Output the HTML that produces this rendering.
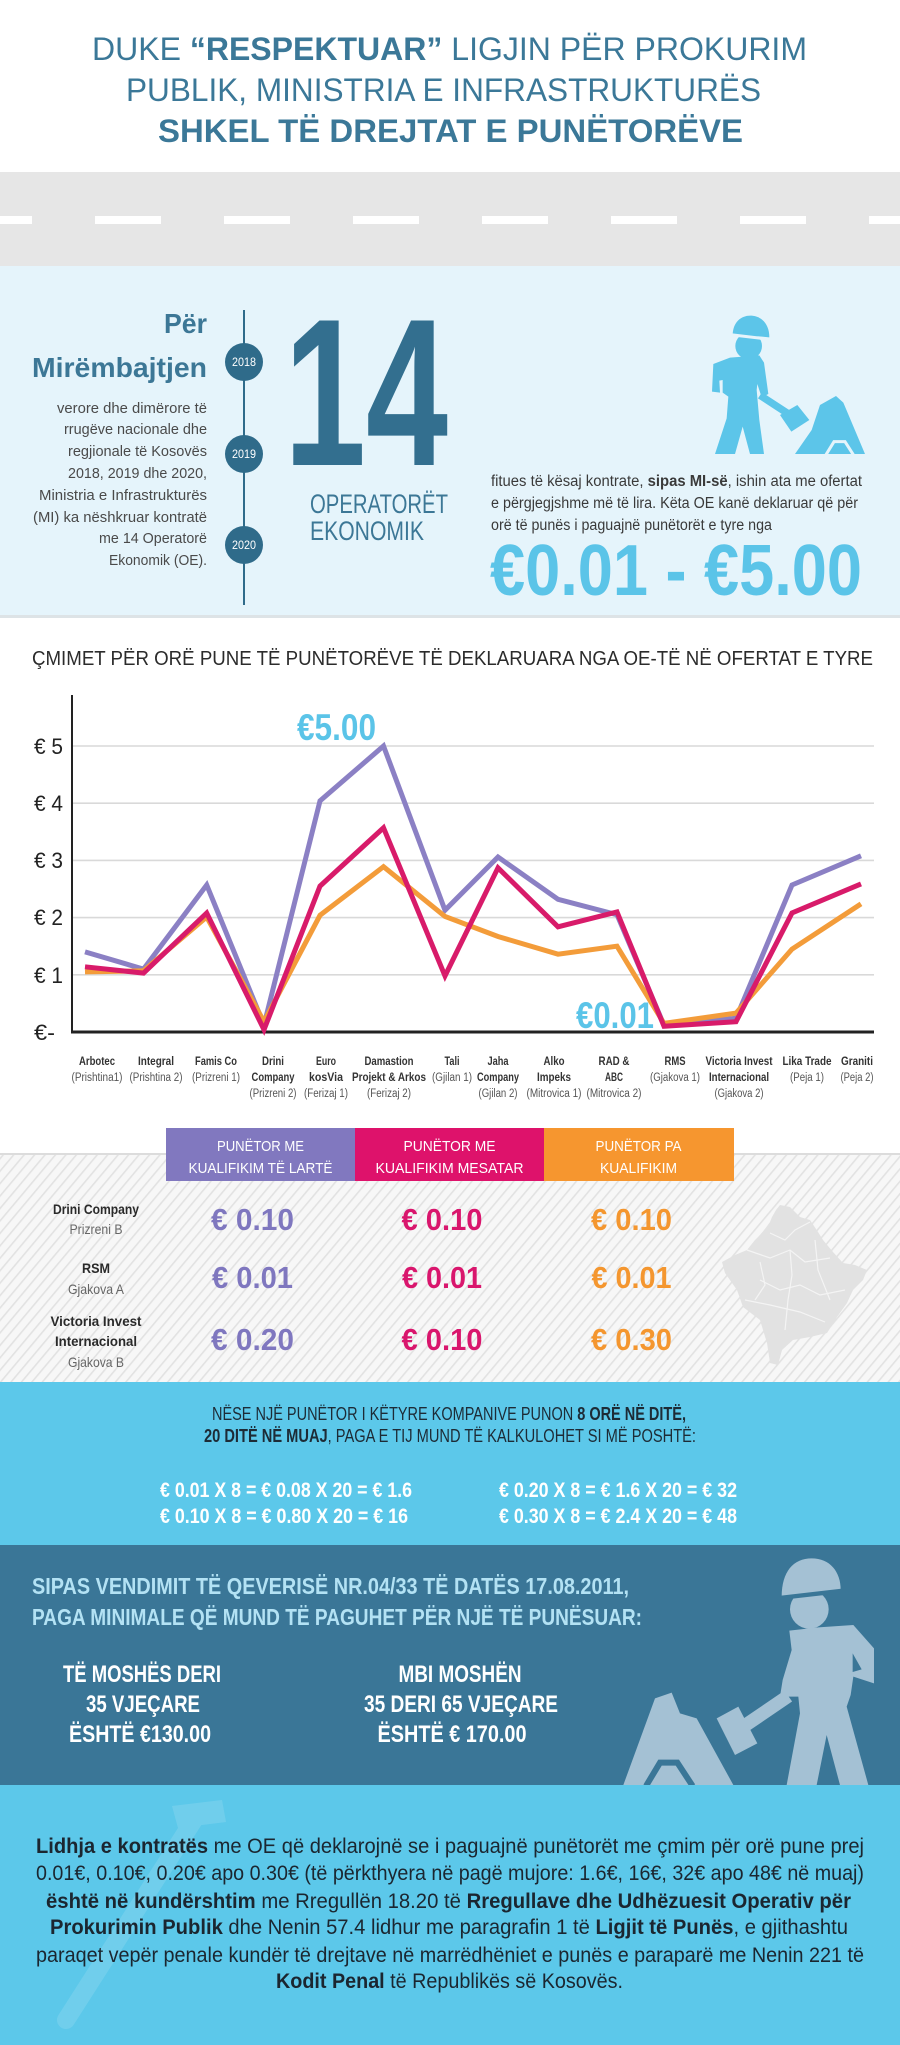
<!DOCTYPE html>
<html><head><meta charset="utf-8">
<style>
html,body{margin:0;padding:0;background:#fff;}
svg{display:block;}
text{font-family:"Liberation Sans Narrow","Liberation Sans",sans-serif;}
.b{font-weight:bold;}
</style></head>
<body>
<svg width="900" height="2045" viewBox="0 0 900 2045" xmlns="http://www.w3.org/2000/svg">
<defs>
<pattern id="st" patternUnits="userSpaceOnUse" width="8" height="8" patternTransform="rotate(40)">
<rect width="8" height="8" fill="#f7f7f7"/>
<rect width="1.6" height="8" fill="#e2e2e2"/>
</pattern>
</defs>

<!-- Title -->
<rect x="0" y="0" width="900" height="172" fill="#ffffff"/>
<g fill="#3b7898" font-size="32">
<text x="92" y="60" textLength="715" lengthAdjust="spacingAndGlyphs">DUKE <tspan class="b">“RESPEKTUAR”</tspan> LIGJIN PËR PROKURIM</text>
<text x="126" y="101" textLength="635" lengthAdjust="spacingAndGlyphs">PUBLIK, MINISTRIA E INFRASTRUKTURËS</text>
<text x="158" y="142" textLength="585" lengthAdjust="spacingAndGlyphs" class="b">SHKEL TË DREJTAT E PUNËTORËVE</text>
</g>

<!-- Road -->
<rect x="0" y="172" width="900" height="94" fill="#e6e6e6"/>
<g fill="#ffffff">
<rect x="-34" y="216" width="66" height="8"/>
<rect x="95" y="216" width="66" height="8"/>
<rect x="224" y="216" width="66" height="8"/>
<rect x="353" y="216" width="66" height="8"/>
<rect x="482" y="216" width="66" height="8"/>
<rect x="611" y="216" width="66" height="8"/>
<rect x="740" y="216" width="66" height="8"/>
<rect x="869" y="216" width="66" height="8"/>
</g>

<!-- Light blue section -->
<rect x="0" y="266" width="900" height="350" fill="#e5f4fb"/>
<rect x="0" y="615" width="900" height="3" fill="#dde3e6"/>

<g fill="#3c7796" font-size="28" font-weight="bold">
<text x="207" y="333" text-anchor="end" textLength="43" lengthAdjust="spacingAndGlyphs">Për</text>
<text x="32" y="377" textLength="175" lengthAdjust="spacingAndGlyphs">Mirëmbajtjen</text>
</g>
<g fill="#4a4a4a" font-size="15" text-anchor="end">
<text x="207" y="413" textLength="150" lengthAdjust="spacingAndGlyphs">verore dhe dimërore të</text>
<text x="207" y="434" textLength="143" lengthAdjust="spacingAndGlyphs">rrugëve nacionale dhe</text>
<text x="207" y="456" textLength="139" lengthAdjust="spacingAndGlyphs">regjionale të Kosovës</text>
<text x="207" y="478" textLength="139" lengthAdjust="spacingAndGlyphs">2018, 2019 dhe 2020,</text>
<text x="207" y="500" textLength="168" lengthAdjust="spacingAndGlyphs">Ministria e Infrastrukturës</text>
<text x="207" y="522" textLength="174" lengthAdjust="spacingAndGlyphs">(MI) ka nëshkruar kontratë</text>
<text x="207" y="543" textLength="108" lengthAdjust="spacingAndGlyphs">me 14 Operatorë</text>
<text x="207" y="565" textLength="98" lengthAdjust="spacingAndGlyphs">Ekonomik (OE).</text>
</g>

<line x1="244" y1="310" x2="244" y2="605" stroke="#2f6b8a" stroke-width="2"/>
<g fill="#2f6b8a">
<circle cx="244" cy="362" r="19"/>
<circle cx="244" cy="454" r="19"/>
<circle cx="244" cy="545" r="19"/>
</g>
<g fill="#ffffff" font-size="12" text-anchor="middle">
<text x="244" y="366" textLength="24" lengthAdjust="spacingAndGlyphs">2018</text>
<text x="244" y="458" textLength="24" lengthAdjust="spacingAndGlyphs">2019</text>
<text x="244" y="549" textLength="24" lengthAdjust="spacingAndGlyphs">2020</text>
</g>

<text x="284" y="465" font-size="210" font-weight="bold" fill="#336f8f" textLength="164" lengthAdjust="spacingAndGlyphs">14</text>
<g fill="#3c7796" font-size="27">
<text x="310" y="513" textLength="138" lengthAdjust="spacingAndGlyphs">OPERATORËT</text>
<text x="310" y="540" textLength="114" lengthAdjust="spacingAndGlyphs">EKONOMIK</text>
</g>

<!-- worker icon light -->
<g transform="translate(680,290) scale(0.33333)" fill="#5cc5e9">
<circle cx="206" cy="168" r="40"/>
<path d="M158,132 C160,95 185,75 215,77 C248,80 268,105 268,142 Z"/>
<line x1="150" y1="134" x2="278" y2="149" stroke="#e5f4fb" stroke-width="9"/>
<path d="M100,222 L150,203 L238,196 L252,218 L265,312 L245,322 L232,282 L230,300 L238,390 L252,492 L210,492 L188,410 L165,492 L105,492 L140,385 L145,320 L128,308 L128,270 L118,272 L120,308 L96,305 Z"/>
<line x1="240" y1="316" x2="335" y2="378" stroke="#5cc5e9" stroke-width="22"/>
<polygon points="300,375 352,345 388,390 334,425"/>
<polygon points="345,492 395,420 420,345 468,318 490,338 555,492"/>
<polyline points="438,494 462,455 495,455 520,494" fill="none" stroke="#e5f4fb" stroke-width="9"/>
</g>

<g fill="#3a3a3a" font-size="15.5">
<text x="491" y="486" textLength="371" lengthAdjust="spacingAndGlyphs">fitues të kësaj kontrate, <tspan font-weight="bold">sipas MI-së</tspan>, ishin ata me ofertat</text>
<text x="491" y="508" textLength="367" lengthAdjust="spacingAndGlyphs">e përgjegjshme më të lira. Këta OE kanë deklaruar që për</text>
<text x="491" y="530" textLength="281" lengthAdjust="spacingAndGlyphs">orë të punës i paguajnë punëtorët e tyre nga</text>
</g>
<text x="490" y="595" font-size="72" font-weight="bold" fill="#5bc4e8" textLength="372" lengthAdjust="spacingAndGlyphs">€0.01 - €5.00</text>

<!-- Chart -->
<text x="32" y="665" font-size="20" fill="#2b2b2b" textLength="841" lengthAdjust="spacingAndGlyphs">ÇMIMET PËR ORË PUNE TË PUNËTORËVE TË DEKLARUARA NGA OE-TË NË OFERTAT E TYRE</text>

<g stroke="#d9d9d9" stroke-width="1.6">
<line x1="72" y1="974.8" x2="874" y2="974.8"/>
<line x1="72" y1="917.6" x2="874" y2="917.6"/>
<line x1="72" y1="860.4" x2="874" y2="860.4"/>
<line x1="72" y1="803.2" x2="874" y2="803.2"/>
<line x1="72" y1="746" x2="874" y2="746"/>
</g>
<line x1="72" y1="695" x2="72" y2="1033" stroke="#222" stroke-width="2"/>
<line x1="71" y1="1032" x2="874" y2="1032" stroke="#222" stroke-width="3"/>

<g fill="#222" font-size="22">
<text x="34" y="754" textLength="29" lengthAdjust="spacingAndGlyphs">€ 5</text>
<text x="34" y="811" textLength="29" lengthAdjust="spacingAndGlyphs">€ 4</text>
<text x="34" y="868" textLength="29" lengthAdjust="spacingAndGlyphs">€ 3</text>
<text x="34" y="925" textLength="29" lengthAdjust="spacingAndGlyphs">€ 2</text>
<text x="34" y="983" textLength="29" lengthAdjust="spacingAndGlyphs">€ 1</text>
<text x="34" y="1040" textLength="21" lengthAdjust="spacingAndGlyphs">€-</text>
</g>

<g fill="none" stroke-width="5" stroke-linejoin="miter" stroke-miterlimit="6">
<polyline stroke="#8b80c4" points="85,951.9 143.5,969.1 206.7,885 264,1025.1 320,800.9 383.5,746 445,910.2 498,857 558,899.3 617,914.7 664,1025.1 736,1018.3 792,885 861,855.8"/>
<polyline stroke="#f39c3a" points="85,971.9 143.5,970.8 206.7,917 264,1021.7 320,915.3 383.5,866.7 445,916.4 498,936.5 558,954.2 617,946.2 664,1023.4 736,1013.1 792,949.1 861,903.9"/>
<polyline stroke="#d81b6a" points="85,966.8 143.5,973.1 206.7,913 264,1029.7 320,886.1 383.5,827.8 445,975.9 498,867.8 558,926.8 617,911.9 664,1026.3 736,1021.7 792,913 861,883.9"/>
</g>

<text x="297" y="740" font-size="37" font-weight="bold" fill="#5bc4e8" textLength="79" lengthAdjust="spacingAndGlyphs">€5.00</text>
<text x="576" y="1028" font-size="37" font-weight="bold" fill="#5bc4e8" textLength="78" lengthAdjust="spacingAndGlyphs">€0.01</text>

<g font-size="11.5" text-anchor="middle">
<g fill="#333" font-weight="bold">
<text x="97" y="1065" textLength="36" lengthAdjust="spacingAndGlyphs">Arbotec</text>
<text x="156" y="1065" textLength="36" lengthAdjust="spacingAndGlyphs">Integral</text>
<text x="216" y="1065" textLength="42" lengthAdjust="spacingAndGlyphs">Famis Co</text>
<text x="273" y="1065" textLength="22" lengthAdjust="spacingAndGlyphs">Drini</text>
<text x="273" y="1081" textLength="43" lengthAdjust="spacingAndGlyphs">Company</text>
<text x="326" y="1065" textLength="20" lengthAdjust="spacingAndGlyphs">Euro</text>
<text x="326" y="1081" textLength="34" lengthAdjust="spacingAndGlyphs">kosVia</text>
<text x="389" y="1065" textLength="49" lengthAdjust="spacingAndGlyphs">Damastion</text>
<text x="389" y="1081" textLength="74" lengthAdjust="spacingAndGlyphs">Projekt &amp; Arkos</text>
<text x="452" y="1065" textLength="15" lengthAdjust="spacingAndGlyphs">Tali</text>
<text x="498" y="1065" textLength="21" lengthAdjust="spacingAndGlyphs">Jaha</text>
<text x="498" y="1081" textLength="42" lengthAdjust="spacingAndGlyphs">Company</text>
<text x="554" y="1065" textLength="21" lengthAdjust="spacingAndGlyphs">Alko</text>
<text x="554" y="1081" textLength="34" lengthAdjust="spacingAndGlyphs">Impeks</text>
<text x="614" y="1065" textLength="31" lengthAdjust="spacingAndGlyphs">RAD &amp;</text>
<text x="614" y="1081" textLength="18" lengthAdjust="spacingAndGlyphs">ABC</text>
<text x="675" y="1065" textLength="21" lengthAdjust="spacingAndGlyphs">RMS</text>
<text x="739" y="1065" textLength="67" lengthAdjust="spacingAndGlyphs">Victoria Invest</text>
<text x="739" y="1081" textLength="60" lengthAdjust="spacingAndGlyphs">Internacional</text>
<text x="807" y="1065" textLength="49" lengthAdjust="spacingAndGlyphs">Lika Trade</text>
<text x="857" y="1065" textLength="32" lengthAdjust="spacingAndGlyphs">Graniti</text>
</g>
<g fill="#555">
<text x="97" y="1081" textLength="51" lengthAdjust="spacingAndGlyphs">(Prishtina1)</text>
<text x="156" y="1081" textLength="53" lengthAdjust="spacingAndGlyphs">(Prishtina 2)</text>
<text x="216" y="1081" textLength="48" lengthAdjust="spacingAndGlyphs">(Prizreni 1)</text>
<text x="273" y="1097" textLength="47" lengthAdjust="spacingAndGlyphs">(Prizreni 2)</text>
<text x="326" y="1097" textLength="44" lengthAdjust="spacingAndGlyphs">(Ferizaj 1)</text>
<text x="389" y="1097" textLength="44" lengthAdjust="spacingAndGlyphs">(Ferizaj 2)</text>
<text x="452" y="1081" textLength="40" lengthAdjust="spacingAndGlyphs">(Gjilan 1)</text>
<text x="498" y="1097" textLength="39" lengthAdjust="spacingAndGlyphs">(Gjilan 2)</text>
<text x="554" y="1097" textLength="55" lengthAdjust="spacingAndGlyphs">(Mitrovica 1)</text>
<text x="614" y="1097" textLength="55" lengthAdjust="spacingAndGlyphs">(Mitrovica 2)</text>
<text x="675" y="1081" textLength="50" lengthAdjust="spacingAndGlyphs">(Gjakova 1)</text>
<text x="739" y="1097" textLength="49" lengthAdjust="spacingAndGlyphs">(Gjakova 2)</text>
<text x="807" y="1081" textLength="34" lengthAdjust="spacingAndGlyphs">(Peja 1)</text>
<text x="857" y="1081" textLength="33" lengthAdjust="spacingAndGlyphs">(Peja 2)</text>
</g>
</g>

<!-- Table section -->
<rect x="0" y="1154" width="900" height="228" fill="url(#st)"/>
<rect x="0" y="1153" width="900" height="2" fill="#dcdcdc"/>

<!-- map -->
<polygon fill="#e2e2e2" points="780,1205 790,1207 800,1217 810,1220 818,1232 823,1240 833,1252 843,1263 855,1265 867,1270 863,1280 853,1290 847,1303 837,1317 827,1333 810,1337 793,1340 782,1350 778,1365 770,1363 767,1343 760,1320 743,1307 737,1290 725,1273 722,1262 735,1255 747,1250 755,1240 762,1233 770,1222 772,1217 776,1210"/>
<g fill="none" stroke="#f4f4f4" stroke-width="1.2">
<polyline points="747,1250 770,1258 790,1250 805,1262 830,1258"/>
<polyline points="760,1280 780,1290 800,1285 820,1295 845,1290"/>
<polyline points="770,1233 785,1240 795,1230 810,1222"/>
<polyline points="790,1250 792,1275 788,1300 785,1330"/>
<polyline points="745,1300 770,1305 800,1312 825,1322"/>
<polyline points="760,1262 765,1285 755,1300"/>
<polyline points="815,1240 818,1270 830,1300"/>
</g>

<rect x="166" y="1128" width="189" height="53" fill="#8178bf"/>
<rect x="355" y="1128" width="189" height="53" fill="#de126b"/>
<rect x="544" y="1128" width="190" height="53" fill="#f6962f"/>
<g fill="#ffffff" font-size="15" text-anchor="middle">
<text x="260.5" y="1151" textLength="87" lengthAdjust="spacingAndGlyphs">PUNËTOR ME</text>
<text x="260.5" y="1173" textLength="144" lengthAdjust="spacingAndGlyphs">KUALIFIKIM TË LARTË</text>
<text x="449.5" y="1151" textLength="92" lengthAdjust="spacingAndGlyphs">PUNËTOR  ME</text>
<text x="449.5" y="1173" textLength="148" lengthAdjust="spacingAndGlyphs">KUALIFIKIM MESATAR</text>
<text x="638.5" y="1151" textLength="86" lengthAdjust="spacingAndGlyphs">PUNËTOR PA</text>
<text x="638.5" y="1173" textLength="77" lengthAdjust="spacingAndGlyphs">KUALIFIKIM</text>
</g>

<g font-size="14" text-anchor="middle">
<g fill="#2a2a2a" font-weight="bold">
<text x="96" y="1214" textLength="86" lengthAdjust="spacingAndGlyphs">Drini Company</text>
<text x="96" y="1273" textLength="28" lengthAdjust="spacingAndGlyphs">RSM</text>
<text x="96" y="1326" textLength="91" lengthAdjust="spacingAndGlyphs">Victoria Invest</text>
<text x="96" y="1346" textLength="82" lengthAdjust="spacingAndGlyphs">Internacional</text>
</g>
<g fill="#666">
<text x="96" y="1234" textLength="53" lengthAdjust="spacingAndGlyphs">Prizreni B</text>
<text x="96" y="1294" textLength="56" lengthAdjust="spacingAndGlyphs">Gjakova A</text>
<text x="96" y="1367" textLength="56" lengthAdjust="spacingAndGlyphs">Gjakova B</text>
</g>
</g>

<g font-size="31" font-weight="bold" text-anchor="middle">
<g fill="#7f77bf">
<text x="252.5" y="1230" textLength="83" lengthAdjust="spacingAndGlyphs">€ 0.10</text>
<text x="252.5" y="1288" textLength="81" lengthAdjust="spacingAndGlyphs">€ 0.01</text>
<text x="252.5" y="1350" textLength="83" lengthAdjust="spacingAndGlyphs">€ 0.20</text>
</g>
<g fill="#d9166d">
<text x="442" y="1230" textLength="81" lengthAdjust="spacingAndGlyphs">€ 0.10</text>
<text x="442" y="1288" textLength="80" lengthAdjust="spacingAndGlyphs">€ 0.01</text>
<text x="442" y="1350" textLength="81" lengthAdjust="spacingAndGlyphs">€ 0.10</text>
</g>
<g fill="#f4962f">
<text x="631.5" y="1230" textLength="81" lengthAdjust="spacingAndGlyphs">€ 0.10</text>
<text x="631.5" y="1288" textLength="80" lengthAdjust="spacingAndGlyphs">€ 0.01</text>
<text x="631.5" y="1350" textLength="81" lengthAdjust="spacingAndGlyphs">€ 0.30</text>
</g>
</g>

<!-- Cyan calc section -->
<rect x="0" y="1382" width="900" height="163" fill="#5cc8ea"/>
<g fill="#1d2b36" font-size="18">
<text x="212" y="1420" textLength="474" lengthAdjust="spacingAndGlyphs">NËSE NJË PUNËTOR I KËTYRE KOMPANIVE PUNON <tspan font-weight="bold">8 ORË NË DITË,</tspan></text>
<text x="204" y="1442" textLength="492" lengthAdjust="spacingAndGlyphs"><tspan font-weight="bold">20 DITË NË MUAJ</tspan>, PAGA E TIJ MUND TË KALKULOHET SI MË POSHTË:</text>
</g>
<g fill="#ffffff" font-size="21" font-weight="bold">
<text x="160" y="1497" textLength="252" lengthAdjust="spacingAndGlyphs">€ 0.01 X 8 = € 0.08 X 20 = € 1.6</text>
<text x="160" y="1523" textLength="248" lengthAdjust="spacingAndGlyphs">€ 0.10 X 8 = € 0.80 X 20 = € 16</text>
<text x="499" y="1497" textLength="238" lengthAdjust="spacingAndGlyphs">€ 0.20 X 8 = € 1.6 X 20 = € 32</text>
<text x="499" y="1523" textLength="238" lengthAdjust="spacingAndGlyphs">€ 0.30 X 8 = € 2.4 X 20 = € 48</text>
</g>

<!-- Dark section -->
<rect x="0" y="1545" width="900" height="240" fill="#3a7697"/>
<g transform="translate(600,1540) scale(0.33333)" fill="#a4c1d4">
<circle cx="628" cy="208" r="58"/>
<path d="M545,170 C545,95 580,55 635,55 C690,55 722,95 722,150 Z"/>
<line x1="538" y1="174" x2="730" y2="152" stroke="#3a7697" stroke-width="13"/>
<path d="M568,272 L655,262 L760,255 L822,325 L822,430 L760,410 L752,465 L740,500 L805,735 L720,735 L680,585 L650,735 L560,735 L600,520 L595,470 L540,470 L548,420 L575,330 Z"/>
<polygon points="758,340 785,388 758,396" fill="#3a7697"/>
<line x1="565" y1="468" x2="430" y2="560" stroke="#a4c1d4" stroke-width="40"/>
<polygon points="350,535 415,500 472,610 405,645"/>
<polygon points="70,735 165,475 215,458 240,520 290,535 400,735"/>
<polyline points="138,738 180,668 232,668 278,738" fill="none" stroke="#3a7697" stroke-width="18"/>
</g>
<g fill="#b3e2f4" font-size="23" font-weight="bold">
<text x="32" y="1594" textLength="597" lengthAdjust="spacingAndGlyphs">SIPAS VENDIMIT TË QEVERISË NR.04/33 TË DATËS 17.08.2011,</text>
<text x="32" y="1625" textLength="610" lengthAdjust="spacingAndGlyphs">PAGA MINIMALE QË MUND TË PAGUHET PËR NJË TË PUNËSUAR:</text>
</g>
<g fill="#ffffff" font-size="24" font-weight="bold" text-anchor="middle">
<text x="142" y="1682" textLength="158" lengthAdjust="spacingAndGlyphs">TË MOSHËS DERI</text>
<text x="143" y="1712" textLength="114" lengthAdjust="spacingAndGlyphs">35 VJEÇARE</text>
<text x="140" y="1742" textLength="142" lengthAdjust="spacingAndGlyphs">ËSHTË €130.00</text>
<text x="460" y="1682" textLength="123" lengthAdjust="spacingAndGlyphs">MBI MOSHËN</text>
<text x="461" y="1712" textLength="194" lengthAdjust="spacingAndGlyphs">35 DERI 65 VJEÇARE</text>
<text x="452" y="1742" textLength="149" lengthAdjust="spacingAndGlyphs">ËSHTË € 170.00</text>
</g>

<!-- Bottom section -->
<rect x="0" y="1785" width="900" height="260" fill="#5cc8ea"/>
<g opacity="0.12" fill="#ffffff">
<line x1="197" y1="1815" x2="66" y2="2020" stroke="#ffffff" stroke-width="18" stroke-linecap="round"/>
<polygon points="172,1806 222,1800 226,1822 178,1828"/>
</g>
<g fill="#1b2630" font-size="21">
<text x="36" y="1853" textLength="828" lengthAdjust="spacingAndGlyphs"><tspan font-weight="bold">Lidhja e kontratës</tspan> me OE që deklarojnë se i paguajnë punëtorët me çmim për orë pune prej</text>
<text x="36" y="1880" textLength="828" lengthAdjust="spacingAndGlyphs">0.01€, 0.10€, 0.20€ apo 0.30€ (të përkthyera në pagë mujore: 1.6€, 16€, 32€ apo 48€ në muaj)</text>
<text x="46" y="1908" textLength="805" lengthAdjust="spacingAndGlyphs"><tspan font-weight="bold">është në kundërshtim</tspan> me Rregullën 18.20 të <tspan font-weight="bold">Rregullave dhe Udhëzuesit Operativ për</tspan></text>
<text x="50" y="1934" textLength="798" lengthAdjust="spacingAndGlyphs"><tspan font-weight="bold">Prokurimin Publik</tspan> dhe Nenin 57.4 lidhur me paragrafin 1 të <tspan font-weight="bold">Ligjit të Punës</tspan>, e gjithashtu</text>
<text x="36" y="1962" textLength="828" lengthAdjust="spacingAndGlyphs">paraqet vepër penale kundër të drejtave në marrëdhëniet e punës e paraparë me Nenin 221 të</text>
<text x="276" y="1988" textLength="347" lengthAdjust="spacingAndGlyphs"><tspan font-weight="bold">Kodit Penal</tspan> të Republikës së Kosovës.</text>
</g>
</svg>
</body></html>
